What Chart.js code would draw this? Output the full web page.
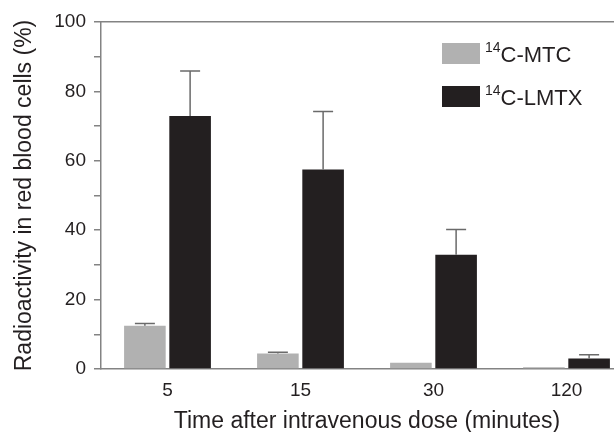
<!DOCTYPE html>
<html>
<head>
<meta charset="utf-8">
<script src="https://cdn.jsdelivr.net/npm/chart.js@4"></script>
<style>
  html, body { margin: 0; padding: 0; background: #fff; overflow: hidden; }
  #wrap { position: relative; width: 645px; height: 432px; }
  #legend { position: absolute; left: 0; top: 0; font-family: 'Liberation Sans', Arial, sans-serif; color: #231f20; }
  .row { position: absolute; left: 442px; width: 160px; height: 21px; }
  .box { position: absolute; left: 0; top: 0; width: 38px; height: 21px; }
  .txt { position: absolute; left: 43px; top: 1px; font-size: 22px; line-height: 22px; white-space: nowrap; }
  .iso { font-size: 14px; position: relative; top: -10px; }
</style>
</head>
<body>
<div id="wrap">
  <canvas id="c" width="645" height="432"></canvas>
  <div id="legend"></div>
</div>
<script>
// ---- data ----
const categories = ['5', '15', '30', '120'];
const seriesIsotope = ['14', '14'];
const seriesNames = ['C-MTC', 'C-LMTX'];
const mtcValues = [12.5, 4.5, 1.8, 0.5];
const mtcErrors = [0.6, 0.3, 0, 0];
const lmtxValues = [72.9, 57.5, 32.9, 3.0];
const lmtxErrors = [13.0, 16.7, 7.3, 1.1];
const yTicksLabelled = [0, 20, 40, 60, 80, 100];
const xTitle = 'Time after intravenous dose (minutes)';
const yTitle = 'Radioactivity in red blood cells (%)';

const colors = ['#b1b1b1', '#231f20'];
const axisColor = '#838383';
const textColor = '#231f20';
const FONT = "'Liberation Sans', Arial, sans-serif";

const errorsBySeries = [mtcErrors, lmtxErrors];

const errorBarPlugin = {
  id: 'errorBars',
  afterDatasetsDraw(chart) {
    const ctx = chart.ctx;
    const y = chart.scales.y;
    ctx.save();
    ctx.strokeStyle = '#6a6a6a';
    ctx.lineWidth = 1.5;
    chart.data.datasets.forEach((ds, d) => {
      const meta = chart.getDatasetMeta(d);
      meta.data.forEach((bar, i) => {
        const err = errorsBySeries[d][i];
        if (!err) return;
        const top = y.getPixelForValue(ds.data[i] + err);
        const half = 10;
        ctx.beginPath();
        ctx.moveTo(bar.x, bar.y);
        ctx.lineTo(bar.x, top);
        ctx.moveTo(bar.x - half, top);
        ctx.lineTo(bar.x + half, top);
        ctx.stroke();
      });
    });
    ctx.restore();
  }
};

const chart = new Chart(document.getElementById('c'), {
  type: 'bar',
  data: {
    labels: categories,
    datasets: [
      { label: seriesIsotope[0] + seriesNames[0], data: mtcValues, backgroundColor: colors[0] },
      { label: seriesIsotope[1] + seriesNames[1], data: lmtxValues, backgroundColor: colors[1] }
    ]
  },
  options: {
    responsive: false,
    animation: false,
    devicePixelRatio: 1,
    layout: { padding: { top: 22, right: 12, left: 0, bottom: 0 } },
    datasets: { bar: { categoryPercentage: 0.68, barPercentage: 0.92 } },
    plugins: { legend: { display: false }, tooltip: { enabled: false } },
    scales: {
      x: {
        position: 'bottom',
        grid: { display: false, drawTicks: false },
        border: { display: true, color: axisColor, width: 1.5 },
        ticks: { color: textColor, font: { family: FONT, size: 19 }, padding: 10 },
        title: { display: true, text: xTitle, color: textColor, font: { family: FONT, size: 23 }, padding: { top: 0, bottom: -3 } },
        afterFit(s) { s.height = 63; }
      },
      xTop: {
        position: 'top',
        grid: { display: false, drawTicks: false },
        border: { display: true, color: axisColor, width: 1.5 },
        ticks: { display: false },
        afterFit(s) { s.height = 0; }
      },
      y: {
        min: 0, max: 100,
        grid: { drawOnChartArea: false, drawTicks: true, tickLength: 7, color: axisColor, lineWidth: 1.5 },
        border: { display: true, color: axisColor, width: 1.5 },
        ticks: {
          stepSize: 10,
          color: textColor,
          font: { family: FONT, size: 19 },
          padding: 8,
          callback: v => yTicksLabelled.includes(v) ? String(v) : ''
        },
        title: { display: true, text: yTitle, color: textColor, font: { family: FONT, size: 23 }, padding: { top: 11, bottom: 0 } },
        afterFit(s) { s.width = 101; }
      }
    }
  },
  plugins: [errorBarPlugin]
});

// HTML legend with superscript isotope numbers
const legend = document.getElementById('legend');
seriesNames.forEach((name, i) => {
  const row = document.createElement('div');
  row.className = 'row';
  row.style.top = (43 + i * 43) + 'px';
  const box = document.createElement('div');
  box.className = 'box';
  box.style.background = colors[i];
  const txt = document.createElement('div');
  txt.className = 'txt';
  const iso = document.createElement('span');
  iso.className = 'iso';
  iso.textContent = seriesIsotope[i];
  txt.appendChild(iso);
  txt.appendChild(document.createTextNode(name));
  row.appendChild(box);
  row.appendChild(txt);
  legend.appendChild(row);
});
</script>
</body>
</html>
